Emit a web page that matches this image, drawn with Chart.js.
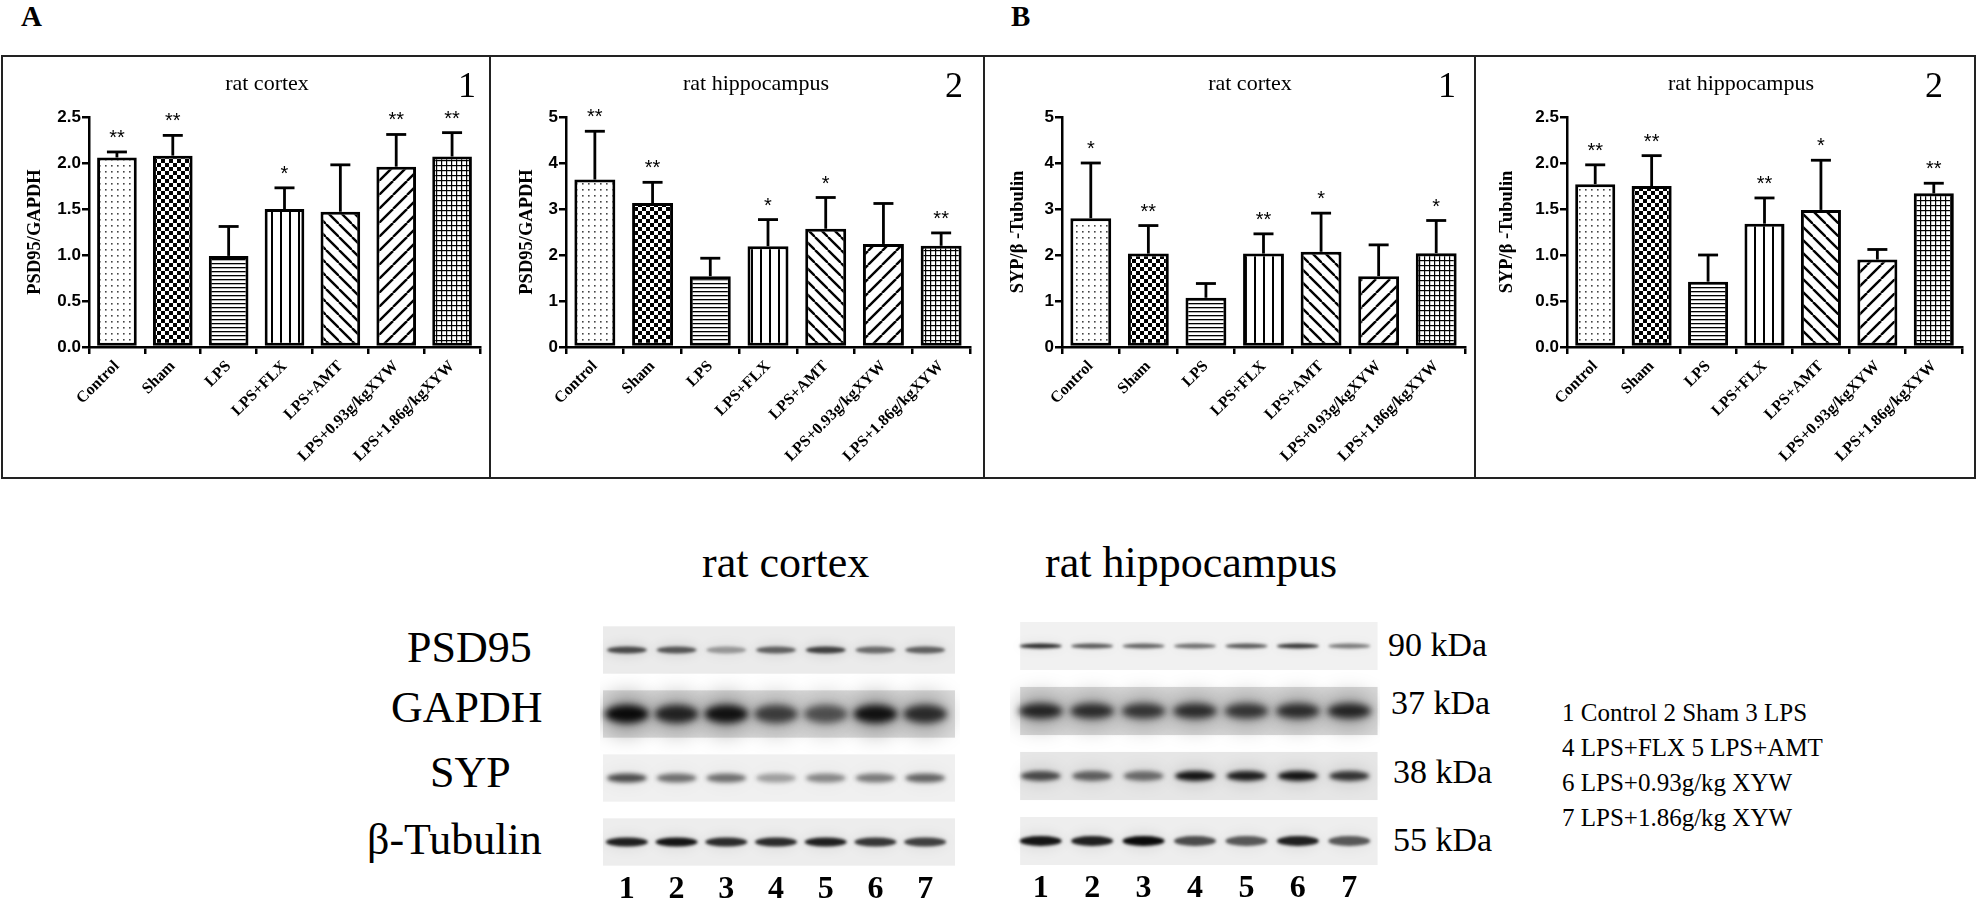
<!DOCTYPE html>
<html><head><meta charset="utf-8">
<script src="https://cdn.jsdelivr.net/npm/chart.js@4.4.0/dist/chart.umd.min.js"></script>
<style>
html,body{margin:0;padding:0;background:#fff;}
body{width:1977px;height:903px;overflow:hidden;position:relative;font-family:"Liberation Serif","Times New Roman",serif;}
.frame{position:absolute;left:1px;top:55px;width:1975px;height:424px;border:2px solid #222;box-sizing:border-box;pointer-events:none;}
.vdiv{position:absolute;top:55px;width:2px;height:424px;background:#222;}
.box{position:absolute;}
.txt{position:absolute;white-space:nowrap;line-height:1;color:#000;}
</style></head><body>
<div id="root"></div>
<script>
// ---------------- DATA ----------------
const categories = ['Control','Sham','LPS','LPS+FLX','LPS+AMT','LPS+0.93g/kgXYW','LPS+1.86g/kgXYW'];

const psd95CortexMean = [2.06, 2.08, 0.99, 1.50, 1.47, 1.96, 2.07];
const psd95CortexErr  = [0.06, 0.22, 0.32, 0.23, 0.51, 0.35, 0.26];
const psd95CortexSig  = ['**','**','','*','','**','**'];

const psd95HippoMean = [3.64, 3.13, 1.54, 2.19, 2.57, 2.24, 2.20];
const psd95HippoErr  = [1.05, 0.45, 0.39, 0.58, 0.68, 0.88, 0.28];
const psd95HippoSig  = ['**','**','','*','*','','**'];

const sypCortexMean = [2.80, 2.03, 1.07, 2.03, 2.07, 1.54, 2.04];
const sypCortexErr  = [1.20, 0.61, 0.31, 0.43, 0.84, 0.68, 0.71];
const sypCortexSig  = ['*','**','','**','*','','*'];

const sypHippoMean = [1.77, 1.75, 0.71, 1.34, 1.49, 0.95, 1.67];
const sypHippoErr  = [0.21, 0.33, 0.29, 0.28, 0.54, 0.11, 0.11];
const sypHippoSig  = ['**','**','','**','*','','**'];

const yTicks25 = [0, 0.5, 1.0, 1.5, 2.0, 2.5];
const yTicks5  = [0, 1, 2, 3, 4, 5];

// western blot lanes / rows / relative band darkness (0..1)
const laneLabels = ['1','2','3','4','5','6','7'];
const blotRows = ['PSD95','GAPDH','SYP','\u03B2-Tubulin'];
const blotKDa = ['90 kDa','37 kDa','38 kDa','55 kDa'];
const cortexPSD95   = [0.70, 0.65, 0.35, 0.60, 0.75, 0.55, 0.60];
const cortexGAPDH   = [1.00, 0.85, 0.95, 0.70, 0.60, 0.95, 0.80];
const cortexSYP     = [0.70, 0.55, 0.55, 0.35, 0.45, 0.50, 0.60];
const cortexTubulin = [0.90, 0.95, 0.85, 0.85, 0.90, 0.80, 0.75];
const hippoPSD95    = [0.85, 0.65, 0.60, 0.55, 0.65, 0.80, 0.50];
const hippoGAPDH    = [0.85, 0.80, 0.75, 0.80, 0.75, 0.80, 0.85];
const hippoSYP      = [0.70, 0.60, 0.55, 0.95, 0.90, 0.95, 0.80];
const hippoTubulin  = [0.95, 0.90, 1.00, 0.70, 0.65, 0.90, 0.65];

const legendLines = ['1 Control 2 Sham 3 LPS','4 LPS+FLX 5 LPS+AMT','6 LPS+0.93g/kg XYW','7 LPS+1.86g/kg XYW'];

// ---------------- STYLE ----------------
const SERIF = '"Liberation Serif","Times New Roman",serif';
const SANS = '"Liberation Sans",Arial,sans-serif';
const root = document.getElementById('root');

function putText(t, x, baseline, size, opt){
  opt = opt || {};
  const d = document.createElement('div');
  d.className = 'txt';
  d.textContent = t;
  d.style.fontSize = size + 'px';
  d.style.fontFamily = opt.family || SERIF;
  if (opt.bold) d.style.fontWeight = 'bold';
  d.style.top = (baseline - 0.8375*size) + 'px';
  d.style.left = x + 'px';
  if (opt.center) d.style.transform = 'translateX(-50%)';
  root.appendChild(d);
}

function tile(w, h, draw){
  const c = document.createElement('canvas');
  c.width = w; c.height = h;
  const g = c.getContext('2d');
  g.fillStyle = '#fff'; g.fillRect(0,0,w,h);
  g.fillStyle = '#000'; g.strokeStyle = '#000';
  draw(g);
  return g.createPattern(c, 'repeat');
}
const patterns = [
  tile(6,6,g=>{ g.fillStyle='#444'; g.fillRect(2,2,1.6,1.6); }),
  tile(8,8,g=>{ g.fillRect(0,0,4,4); g.fillRect(4,4,4,4); }),
  tile(4,4,g=>{ g.fillRect(0,0,4,1.3); }),
  tile(9,9,g=>{ g.fillRect(0,0,2,9); }),
  tile(13,13,g=>{ g.lineWidth=2.4; [-13,0,13].forEach(o=>{ g.beginPath(); g.moveTo(o,0); g.lineTo(o+13,13); g.stroke(); }); }),
  tile(14,14,g=>{ g.lineWidth=2.4; [-14,0,14].forEach(o=>{ g.beginPath(); g.moveTo(o,14); g.lineTo(o+14,0); g.stroke(); }); }),
  tile(5,5,g=>{ g.fillRect(0,0,1.2,5); g.fillRect(0,0,5,1.2); })
];

const annotPlugin = {
  id: 'annot',
  afterDatasetsDraw(chart){
    const cfg = chart.options.plugins.annot;
    const ys = chart.scales.y;
    const ctx = chart.ctx;
    const meta = chart.getDatasetMeta(0);
    ctx.save();
    ctx.strokeStyle = '#000'; ctx.fillStyle = '#000';
    ctx.lineWidth = 2.8;
    meta.data.forEach((bar, i) => {
      const v = cfg.values[i], e = cfg.errors[i];
      const yTop = ys.getPixelForValue(v), yCap = ys.getPixelForValue(v + e);
      ctx.beginPath(); ctx.moveTo(bar.x, yTop); ctx.lineTo(bar.x, yCap); ctx.stroke();
      ctx.beginPath(); ctx.moveTo(bar.x - 10, yCap); ctx.lineTo(bar.x + 10, yCap); ctx.stroke();
      if (cfg.stars[i]) {
        ctx.font = '20px ' + SANS;
        ctx.textAlign = 'center'; ctx.textBaseline = 'alphabetic';
        ctx.fillText(cfg.stars[i], bar.x, yCap - 8);
      }
    });
    ctx.textAlign = 'center'; ctx.textBaseline = 'alphabetic';
    ctx.font = '22px ' + SERIF;
    ctx.fillText(cfg.title, cfg.titleX, 35);
    ctx.font = '36px ' + SERIF;
    ctx.fillText(cfg.num, cfg.numX, 42);
    ctx.restore();
  }
};

const panels = [
  {left:1,    width:489, yW:88, rPad:10, tPad:23, ticks:yTicks25, dec:1, yTitle:'PSD95/GAPDH',    title:'rat cortex',      num:'1', numX:466, values:psd95CortexMean, errors:psd95CortexErr, stars:psd95CortexSig},
  {left:490,  width:494, yW:76, rPad:14, tPad:26, ticks:yTicks5,  dec:0, yTitle:'PSD95/GAPDH',    title:'rat hippocampus', num:'2', numX:464, values:psd95HippoMean,  errors:psd95HippoErr,  stars:psd95HippoSig},
  {left:984,  width:491, yW:78, rPad:10, tPad:23, ticks:yTicks5,  dec:0, yTitle:'SYP/\u03B2 -Tubulin', title:'rat cortex',  num:'1', numX:463, values:sypCortexMean,   errors:sypCortexErr,   stars:sypCortexSig},
  {left:1475, width:502, yW:92, rPad:15, tPad:21, ticks:yTicks25, dec:1, yTitle:'SYP/\u03B2 -Tubulin', title:'rat hippocampus', num:'2', numX:459, values:sypHippoMean, errors:sypHippoErr, stars:sypHippoSig}
];

panels.forEach((p, k) => {
  const box = document.createElement('div');
  box.className = 'box';
  box.style.left = p.left + 'px'; box.style.top = '55px';
  box.style.width = p.width + 'px'; box.style.height = '424px';
  const cv = document.createElement('canvas');
  box.appendChild(cv); root.appendChild(box);
  new Chart(cv, {
    type: 'bar',
    data: { labels: categories, datasets: [{
      data: p.values,
      backgroundColor: patterns,
      borderColor: '#000', borderWidth: 3, borderSkipped: false,
      categoryPercentage: 1.0, barPercentage: 0.71
    }]},
    options: {
      responsive: true, maintainAspectRatio: false, animation: false,
      devicePixelRatio: 1,
      layout: { padding: { top: 62, left: 0, right: p.rPad, bottom: 0 } },
      plugins: { legend: {display:false}, tooltip: {enabled:false}, title:{display:false},
        annot: { values: p.values, errors: p.errors, stars: p.stars, title: p.title, titleX: 266, num: p.num, numX: p.numX } },
      scales: {
        x: {
          grid: { display: true, drawOnChartArea: false, drawTicks: true, tickLength: 7, color: '#000', lineWidth: 2.5 },
          border: { display: true, color: '#000', width: 2.5 },
          ticks: { autoSkip: false, minRotation: 45, maxRotation: 45, padding: 3, color: '#000',
                   font: { family: SERIF, size: 16, weight: 'bold' } },
          afterFit: s => { s.height = 132; }
        },
        y: {
          min: 0, max: p.ticks[p.ticks.length-1],
          afterBuildTicks: s => { s.ticks = p.ticks.map(v => ({value: v})); },
          grid: { display: true, drawOnChartArea: false, drawTicks: true, tickLength: 7, color: '#000', lineWidth: 2.5 },
          border: { display: true, color: '#000', width: 2.5 },
          ticks: { padding: 1, color: '#000', font: { family: SANS, size: 17, weight: 'bold' },
                   callback: v => Number(v).toFixed(p.dec) },
          title: { display: true, text: p.yTitle, color: '#000', padding: { top: p.tPad, bottom: 0 },
                   font: { family: SERIF, size: 18.5, weight: 'bold' } },
          afterFit: s => { s.width = p.yW; }
        }
      }
    },
    plugins: [annotPlugin]
  });
});

// frame
const fr = document.createElement('div'); fr.className = 'frame'; root.appendChild(fr);
[489, 983, 1474].forEach(x => { const d = document.createElement('div'); d.className='vdiv'; d.style.left = x + 'px'; root.appendChild(d); });

putText('A', 21, 26, 29, {bold:true});
putText('B', 1011, 26, 29, {bold:true});

// ---------------- WESTERN BLOTS ----------------
const rowStyle = {
  cortex: [
    {rx:20, ry:3.5, blur:1.6, strip:'#ebebeb', halo:0.10},
    {rx:22, ry:9,   blur:3.5, strip:'#dcdcdc', halo:0.35},
    {rx:20, ry:4.5, blur:2.2, strip:'#f0f0f0', halo:0.05},
    {rx:21, ry:4.5, blur:1.6, strip:'#ededed', halo:0.05}
  ],
  hippo: [
    {rx:21, ry:2.5, blur:1.4, strip:'#f1f1f1', halo:0.05},
    {rx:22, ry:7.5, blur:3.5, strip:'#d9d9d9', halo:0.35},
    {rx:20, ry:5,   blur:2.2, strip:'#e6e6e6', halo:0.10},
    {rx:21, ry:5,   blur:1.6, strip:'#eeeeee', halo:0.05}
  ]
};

const blotPlugin = {
  id: 'blot',
  beforeDatasetsDraw(chart){
    const cfg = chart.options.plugins.blot;
    const xs = chart.scales.x, ys = chart.scales.y, ctx = chart.ctx;
    ctx.save();
    chart.data.datasets.forEach((ds, r) => {
      const st = cfg.style[r];
      const x0 = xs.getPixelForValue(cfg.x0), x1 = xs.getPixelForValue(cfg.x1);
      const y0 = ys.getPixelForValue(r + 1 - 0.37), y1 = ys.getPixelForValue(r + 1 + 0.37);
      ctx.filter = 'none';
      ctx.fillStyle = st.strip;
      ctx.fillRect(x0, y0, x1 - x0, y1 - y0);
      ds.data.forEach(pt => {
        const cx = xs.getPixelForValue(pt.x), cy = ys.getPixelForValue(pt.y);
        if (st.halo > 0) {
          ctx.filter = 'blur(' + (st.blur * 3) + 'px)';
          ctx.fillStyle = 'rgba(0,0,0,' + (pt.v * st.halo) + ')';
          ctx.beginPath(); ctx.ellipse(cx, cy, st.rx + 2, st.ry * 2.2, 0, 0, Math.PI * 2); ctx.fill();
        }
        ctx.filter = 'blur(' + st.blur + 'px)';
        ctx.fillStyle = 'rgba(10,10,10,' + pt.v + ')';
        ctx.beginPath(); ctx.ellipse(cx, cy, st.rx, st.ry, 0, 0, Math.PI * 2); ctx.fill();
      });
    });
    ctx.filter = 'none';
    ctx.restore();
  }
};

function blotChart(pos, rowsData, style, x0, x1, labelPad){
  const box = document.createElement('div');
  box.className = 'box';
  box.style.left = pos.left + 'px'; box.style.top = pos.top + 'px';
  box.style.width = pos.w + 'px'; box.style.height = pos.h + 'px';
  const cv = document.createElement('canvas');
  box.appendChild(cv); root.appendChild(box);
  new Chart(cv, {
    type: 'scatter',
    data: { datasets: rowsData.map((arr, r) => ({
      label: blotRows[r],
      data: arr.map((v, i) => ({x: i + 1, y: r + 1, v: v})),
      pointRadius: 0, showLine: false
    }))},
    options: {
      responsive: true, maintainAspectRatio: false, animation: false, devicePixelRatio: 1,
      layout: { padding: pos.pad },
      plugins: { legend:{display:false}, tooltip:{enabled:false}, blot: { style: style, x0: x0, x1: x1 } },
      scales: {
        x: { type:'linear', min: 0.5, max: 7.5,
             afterBuildTicks: s => { s.ticks = laneLabels.map((_, i) => ({value: i + 1})); },
             grid: { display:false, drawTicks:false }, border: { display:false },
             ticks: { padding: labelPad, color:'#000', maxRotation:0, autoSkip:false,
                      font: { family: SERIF, size: 32, weight: 'bold' },
                      callback: (v) => laneLabels[Math.round(v) - 1] },
             afterFit: s => { s.height = pos.axisH; } },
        y: { type:'linear', min: 0.5, max: 4.5, reverse: true, display: false }
      }
    },
    plugins: [blotPlugin]
  });
}

blotChart({left:600, top:610, w:360, h:293, pad:{top:8, left:2, right:10, bottom:0}, axisH:29},
          [cortexPSD95, cortexGAPDH, cortexSYP, cortexTubulin], rowStyle.cortex, 0.52, 7.6, -3);
blotChart({left:1010, top:605, w:370, h:298, pad:{top:8.5, left:5, right:5, bottom:0}, axisH:29.5},
          [hippoPSD95, hippoGAPDH, hippoSYP, hippoTubulin], rowStyle.hippo, 0.6, 7.55, -4);

putText('rat cortex', 702, 578, 44);
putText('rat hippocampus', 1045, 578, 44);

const rowLabelX = [407, 391, 430, 367];
const rowBase = [663, 723, 788, 855];
blotRows.forEach((t, i) => putText(t, rowLabelX[i], rowBase[i], 44));

const kdaX = [1388, 1391, 1393, 1393];
const kdaBase = [656, 714, 783, 851];
blotKDa.forEach((t, i) => putText(t, kdaX[i], kdaBase[i], 34));

legendLines.forEach((t, i) => putText(t, 1562, 721 + i * 35, 25));
</script>
</body></html>
